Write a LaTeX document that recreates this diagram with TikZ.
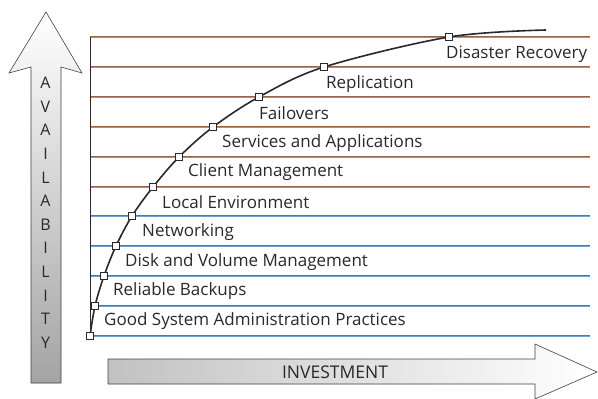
\documentclass[tikz,border=0pt]{standalone}
\usepackage{fontspec}
\setmainfont{Open Sans}
\usetikzlibrary{positioning}

\definecolor{rulebrown}{RGB}{150,100,75}
\definecolor{ruleblue}{RGB}{110,160,210}
\definecolor{inkgray}{RGB}{40,40,45}

\tikzset{
  stepmark/.style={draw=inkgray, fill=white, minimum size=7pt, inner sep=0pt, line width=0.7pt},
  layerlabel/.style={anchor=west, inner sep=0pt, text=inkgray, font=\fontsize{17}{20}\selectfont},
  axisletter/.style={inner sep=0pt, text=inkgray, font=\fontsize{16}{19}\selectfont},
}

\begin{document}
\begin{tikzpicture}[x=1pt,y=-1pt]
  \useasboundingbox (0,0) rectangle (598,399);

  % availability arrow
  \shade[top color=white, bottom color=black!36, draw=black!75, line width=0.6pt]
    (31,383) -- (31,67) -- (9,73) -- (46,12) -- (82,73) -- (61,67) -- (61,383) -- cycle;
  \foreach \ch [count=\i from 0] in {A,V,A,I,L,A,B,I,L,I,T,Y}
    \node[axisletter] (av\i) at (45.5,83+23.6*\i) {\ch};

  % investment arrow
  \shade[left color=black!24, right color=white, draw=black!75, line width=0.6pt]
    (108,359) -- (535,359) -- (535,344) -- (597,372) -- (535,399) -- (535,384) -- (108,384) -- cycle;
  \node[axisletter, font=\fontsize{17.5}{20}\selectfont] (invest) at (335,372) {INVESTMENT};

  % bands
  \foreach \y in {37,67,97,127,157,187,216,246,276,306,336} {
    \draw[rulebrown, line width=1pt] (90,\y-0.5) -- (590,\y-0.5);
    \draw[ruleblue, line width=1pt] (90,\y+0.5) -- (590,\y+0.5);
  }
  \draw[inkgray, line width=1pt] (90.5,37) -- (90.5,336);

  % curve
  \foreach \x/\y [count=\i from 0] in {90/336, 95/306, 104/276, 116/246, 132/216,
      153/187, 179/157, 213/127, 259/97, 324/67, 449/37}
    \coordinate (p\i) at (\x,\y);
  \coordinate (tail) at (546,30);
  \draw[inkgray, line width=1.6pt] plot[smooth, tension=0.55] coordinates
    {(p0) (p1) (p2) (p3) (p4) (p5) (p6) (p7) (p8) (p9) (p10) (tail)};
  \foreach \i in {0,...,10}
    \node[stepmark] (s\i) at (p\i) {};

  % labels
  \node[layerlabel] (good)     at (104,321) {Good System Administration Practices};
  \node[layerlabel] (backups)  at (113,291) {Reliable Backups};
  \node[layerlabel] (disk)     at (125,262) {Disk and Volume Management};
  \node[layerlabel] (network)  at (142,232) {Networking};
  \node[layerlabel] (localenv) at (162,202) {Local Environment};
  \node[layerlabel] (client)   at (188,172) {Client Management};
  \node[layerlabel] (services) at (222,143) {Services and Applications};
  \node[layerlabel] (failover) at (259,113) {Failovers};
  \node[layerlabel] (replic)   at (326,84)  {Replication};
  \node[layerlabel] (disaster) at (446,54)  {Disaster Recovery};

\end{tikzpicture}
\end{document}
